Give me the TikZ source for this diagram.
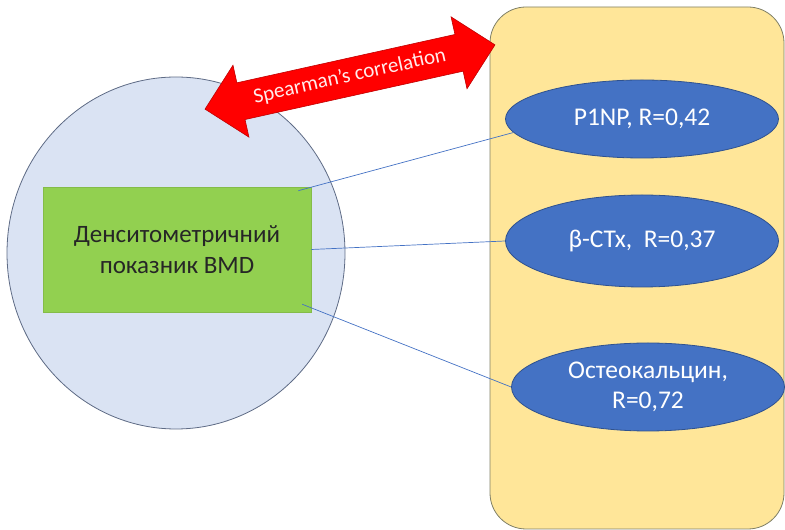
\documentclass[tikz,border=0pt]{standalone}
\usepackage{fontspec}
\setmainfont{Carlito}
\usetikzlibrary{shapes.geometric,shapes.arrows}
\definecolor{panelfill}{HTML}{FFE699}
\definecolor{panelline}{HTML}{7F7F66}
\definecolor{groupfill}{HTML}{DAE3F3}
\definecolor{groupline}{HTML}{5E6B85}
\definecolor{bmdfill}{HTML}{92D050}
\definecolor{bmdline}{HTML}{84BC48}
\definecolor{markerfill}{HTML}{4472C4}
\definecolor{markerline}{HTML}{2F528F}
\definecolor{arrowline}{HTML}{C00000}
\begin{document}
\begin{tikzpicture}[x=1pt,y=1pt,
           panel_style/.style={rectangle,draw=panelline,fill=panelfill,line width=0.8pt,rounded corners=36pt,minimum width=294pt,minimum height=522pt},
           group_style/.style={ellipse,draw=groupline,fill=groupfill,line width=0.8pt,inner sep=0pt,minimum width=338pt,minimum height=352pt},
           bmd_style/.style={rectangle,draw=bmdline,fill=bmdfill,line width=0.6pt,align=center,text=black!85,font=\fontsize{25}{31}\selectfont,minimum width=268pt,minimum height=125pt},
           marker_style/.style={ellipse,draw=markerline,fill=markerfill,line width=0.8pt,align=center,text=white,font=\fontsize{25.5}{30}\selectfont,inner sep=0pt,minimum width=273pt},
           arrow_style/.style={double arrow,draw=arrowline,fill=red,line width=0.6pt,text=white!92!red,font=\fontsize{21}{24}\selectfont,double arrow head extend=18pt,minimum height=297pt,inner xsep=0pt,inner ysep=9pt,text height=14.5pt,text depth=4.5pt},
           link_style/.style={draw=markerfill,line width=0.7pt}]
            \useasboundingbox (0,0) rectangle (785,530);
            \node[panel_style] (panel) at (637,262) {};
            \node[group_style] (group) at (176,277) {};
            \node[bmd_style] (bmd) at (177,280.5) {Денситометричний\\показник BMD};
            \node[marker_style,minimum height=78pt] (p1np) at (642,411) {P1NP, R=0,42};
            \node[marker_style,minimum height=92pt] (bctx) at (642,289) {β-CTx,~ R=0,37};
            \node[marker_style,minimum height=88pt] (osteo) at (648,143) {Остеокальцин,\\R=0,72};
            \node[arrow_style,rotate=12.5] (corr) at (350,453) {Spearman's correlation};
            \coordinate (bmd_top) at ([xshift=-13pt,yshift=-4pt]bmd.north east);
            \coordinate (bmd_bottom) at ([xshift=-9pt,yshift=8pt]bmd.south east);
            \draw[link_style]  (bmd_top) -- (p1np.186);
            \draw[link_style]  (bmd.east) -- (bctx.west);
            \draw[link_style]  (bmd_bottom) -- (osteo.west);
        \end{tikzpicture}
\end{document}
